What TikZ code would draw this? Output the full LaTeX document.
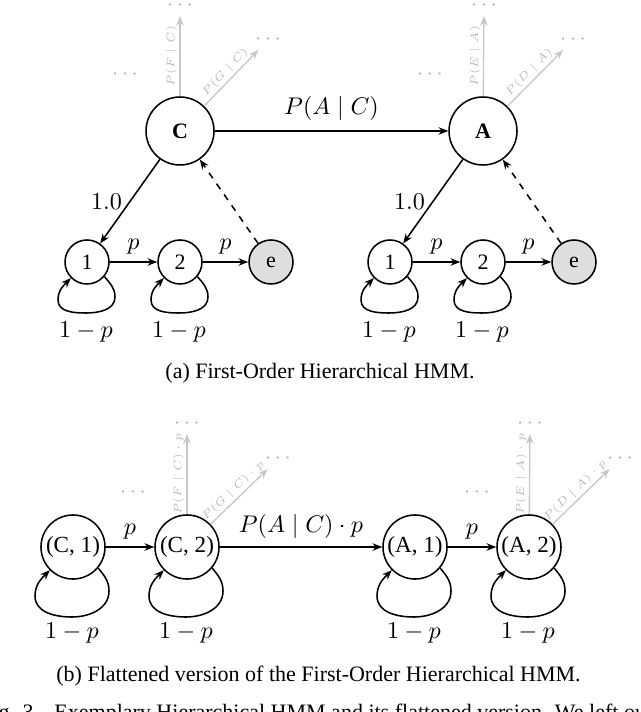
\documentclass[tikz,border=0pt]{standalone}
\usepackage{fontspec}
\setmainfont{Liberation Serif}
\usetikzlibrary{arrows.meta,calc}
\newcommand{\smallloop}[1]{%
  \draw[->] (#1.-40) to[out=-50,in=90] ($(#1)+(28,-35)$)
    to[out=-90,in=0] ($(#1)+(-1,-51)$) node[lab,below,yshift=-0.5pt] {$1-p$}
    to[out=180,in=-90] ($(#1)+(-29,-38)$) to[out=90,in=-135] (#1.-135);}
\newcommand{\bigloop}[1]{%
  \draw[->] (#1.-40) to[out=-50,in=90] ($(#1)+(36,-44)$)
    to[out=-90,in=0] ($(#1)+(-1,-70)$) node[lab,below,yshift=1pt] {$1-p$}
    to[out=180,in=-90] ($(#1)+(-38,-49)$) to[out=90,in=-135] (#1.-135);}
\begin{document}
\begin{tikzpicture}[x=0.4545pt,y=0.4545pt,
  line width=0.7pt,
  >={Stealth[length=4.4pt,width=3.4pt]},
  big/.style={circle,draw,minimum size=30.9pt,inner sep=0pt,font=\fontsize{10}{12}\selectfont\bfseries},
  small/.style={circle,draw,minimum size=20pt,inner sep=0pt,font=\fontsize{10}{12}\selectfont},
  flat/.style={circle,draw,minimum size=29.1pt,inner sep=0pt,font=\fontsize{10.5}{12}\selectfont},
  lab/.style={font=\fontsize{10.6}{12.5}\selectfont},
  faint/.style={draw=black!22,line width=0.6pt},
  tinylab/.style={font=\fontsize{5.4}{6}\selectfont,text=black!28,inner sep=1pt},
  dotsn/.style={text=black!30,font=\fontsize{10}{12}\selectfont,inner sep=2pt},
  captxt/.style={font=\fontsize{10}{12}\selectfont,inner sep=0pt},
]
\useasboundingbox (0,0) rectangle (640,-712);
\clip (0,0) rectangle (640,-712);

% ---------- (a) hierarchical HMM ----------
\node[big] (C) at (180,-131) {C};
\node[big] (A) at (483,-131) {A};
\node[small] (c1) at (87,-262) {1};
\node[small] (c2) at (180,-262) {2};
\node[small,fill=black!13] (ce) at (271,-262) {e};
\node[small] (a1) at (390,-262) {1};
\node[small] (a2) at (483,-262) {2};
\node[small,fill=black!13] (ae) at (574,-262) {e};

\draw[->] (C) -- node[lab,above=1pt] {$P(A\mid C)$} (A);
\draw[->] (C) -- node[lab,left] {$1.0$} (c1);
\draw[->] (A) -- node[lab,left] {$1.0$} (a1);
\draw[->] (c1) -- node[lab,above] {$p$} (c2);
\draw[->] (c2) -- node[lab,above] {$p$} (ce);
\draw[->] (a1) -- node[lab,above] {$p$} (a2);
\draw[->] (a2) -- node[lab,above] {$p$} (ae);
\draw[->,dashed] (ce) -- (C);
\draw[->,dashed] (ae) -- (A);
\smallloop{c1}
\smallloop{c2}
\smallloop{a1}
\smallloop{a2}

% faded continuations (a)
\node[dotsn] (dCF) at (180,-6) {$\cdots$};
\node[dotsn] (dCG) at (268,-40) {$\cdots$};
\node[dotsn] (dCL) at (125,-75) {$\cdots$};
\node[dotsn] (dAE) at (484,-6) {$\cdots$};
\node[dotsn] (dAD) at (573,-40) {$\cdots$};
\node[dotsn] (dAL) at (430,-75) {$\cdots$};
\draw[faint,->] (C) -- node[tinylab,above,sloped] {$P(F\mid C)$} (dCF);
\draw[faint,->] (C) -- node[tinylab,above,sloped] {$P(G\mid C)$} (dCG);
\draw[faint,->] (A) -- node[tinylab,above,sloped] {$P(E\mid A)$} (dAE);
\draw[faint,->] (A) -- node[tinylab,above,sloped] {$P(D\mid A)$} (dAD);

\node[captxt,anchor=base] (capa) at (320,-378) {(a) First-Order Hierarchical HMM.};

% ---------- (b) flattened ----------
\node[flat] (f1) at (73,-547) {(C, 1)};
\node[flat] (f2) at (187,-547) {(C, 2)};
\node[flat] (f3) at (415,-547) {(A, 1)};
\node[flat] (f4) at (529,-547) {(A, 2)};
\draw[->] (f1) -- node[lab,above] {$p$} (f2);
\draw[->] (f2) -- node[lab,above] {$P(A\mid C)\cdot p$} (f3);
\draw[->] (f3) -- node[lab,above] {$p$} (f4);
\bigloop{f1}
\bigloop{f2}
\bigloop{f3}
\bigloop{f4}

\node[dotsn] (dfF) at (187,-424) {$\cdots$};
\node[dotsn] (dfG) at (278,-459) {$\cdots$};
\node[dotsn] (dfL) at (133,-493) {$\cdots$};
\node[dotsn] (dfE) at (530,-424) {$\cdots$};
\node[dotsn] (dfD) at (620,-459) {$\cdots$};
\node[dotsn] (dfR) at (477,-493) {$\cdots$};
\draw[faint,->] (f2) -- node[tinylab,above,sloped] {$P(F\mid C)\cdot p$} (dfF);
\draw[faint,->] (f2) -- node[tinylab,above,sloped] {$P(G\mid C)\cdot p$} (dfG);
\draw[faint,->] (f4) -- node[tinylab,above,sloped] {$P(E\mid A)\cdot p$} (dfE);
\draw[faint,->] (f4) -- node[tinylab,above,sloped] {$P(D\mid A)\cdot p$} (dfD);

\node[captxt,anchor=base] (capb) at (318.5,-681) {(b) Flattened version of the First-Order Hierarchical HMM.};
\node[captxt,anchor=base west] (capfig) at (-20.4,-719.5) {Fig. 3.\hspace{7pt}Exemplary Hierarchical HMM and its flattened version. We left out};
\end{tikzpicture}
\end{document}
